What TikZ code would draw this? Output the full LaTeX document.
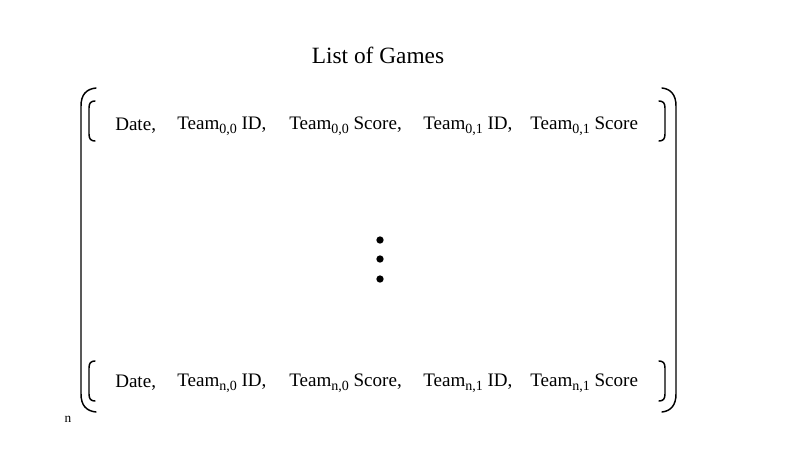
\documentclass[tikz,border=0pt]{standalone}
\usepackage{fontspec}
\setmainfont{Liberation Serif}
\newcommand\mysub[1]{\raisebox{-0.45ex}{\fontsize{10.5}{12}\selectfont #1}}
\begin{document}
\begin{tikzpicture}[x=0.75pt,y=-0.75pt,
  rowtxt/.style={anchor=west,inner sep=0pt,font=\fontsize{14.3}{16}\selectfont},
  brk/.style={line width=1.1pt,line cap=round},
  dotmark/.style={circle,fill=black,inner sep=0pt,minimum size=5.5pt}]
\useasboundingbox (0,0) rectangle (800,450);
\node[font=\fontsize{17.5}{20}\selectfont] (title) at (378,55) {List of Games};
% outer parens
\draw[brk] (96,88) .. controls (86,89) and (81,95) .. (81,106) -- (81,394) .. controls (81,405) and (86,411) .. (96,412);
\draw[brk] (662,88) .. controls (671,89) and (676,95) .. (676,106) -- (676,394) .. controls (676,405) and (671,411) .. (662,412);
% inner brackets top
\draw[brk] (95,101) .. controls (91,101) and (89,103) .. (89,108) -- (89,134) .. controls (89,139) and (91,141) .. (95,141);
\draw[brk] (659,101) .. controls (663,101) and (665,103) .. (665,108) -- (665,134) .. controls (665,139) and (663,141) .. (659,141);
% inner brackets bottom
\draw[brk] (95,361) .. controls (91,361) and (89,363) .. (89,368) -- (89,394) .. controls (89,399) and (91,401) .. (95,401);
\draw[brk] (659,361) .. controls (663,361) and (665,363) .. (665,368) -- (665,394) .. controls (665,399) and (663,401) .. (659,401);
% top row
\node[rowtxt] (d0) at (115,126) {Date,};
\node[rowtxt] (a0) at (177,126) {Team\mysub{0,0} ID,};
\node[rowtxt] (b0) at (289,126) {Team\mysub{0,0} Score,};
\node[rowtxt] (c0) at (423,126) {Team\mysub{0,1} ID,};
\node[rowtxt] (e0) at (530,126) {Team\mysub{0,1} Score};
% bottom row
\node[rowtxt] (dn) at (115,383) {Date,};
\node[rowtxt] (an) at (177,383) {Team\mysub{n,0} ID,};
\node[rowtxt] (bn) at (289,383) {Team\mysub{n,0} Score,};
\node[rowtxt] (cn) at (423,383) {Team\mysub{n,1} ID,};
\node[rowtxt] (en) at (530,383) {Team\mysub{n,1} Score};
% dots
\node[dotmark] (p1) at (380,240) {};
\node[dotmark] (p2) at (380,259) {};
\node[dotmark] (p3) at (380,279) {};
\node[font=\fontsize{10}{12}\selectfont,inner sep=0pt] (n) at (68,419) {n};
\end{tikzpicture}
\end{document}
